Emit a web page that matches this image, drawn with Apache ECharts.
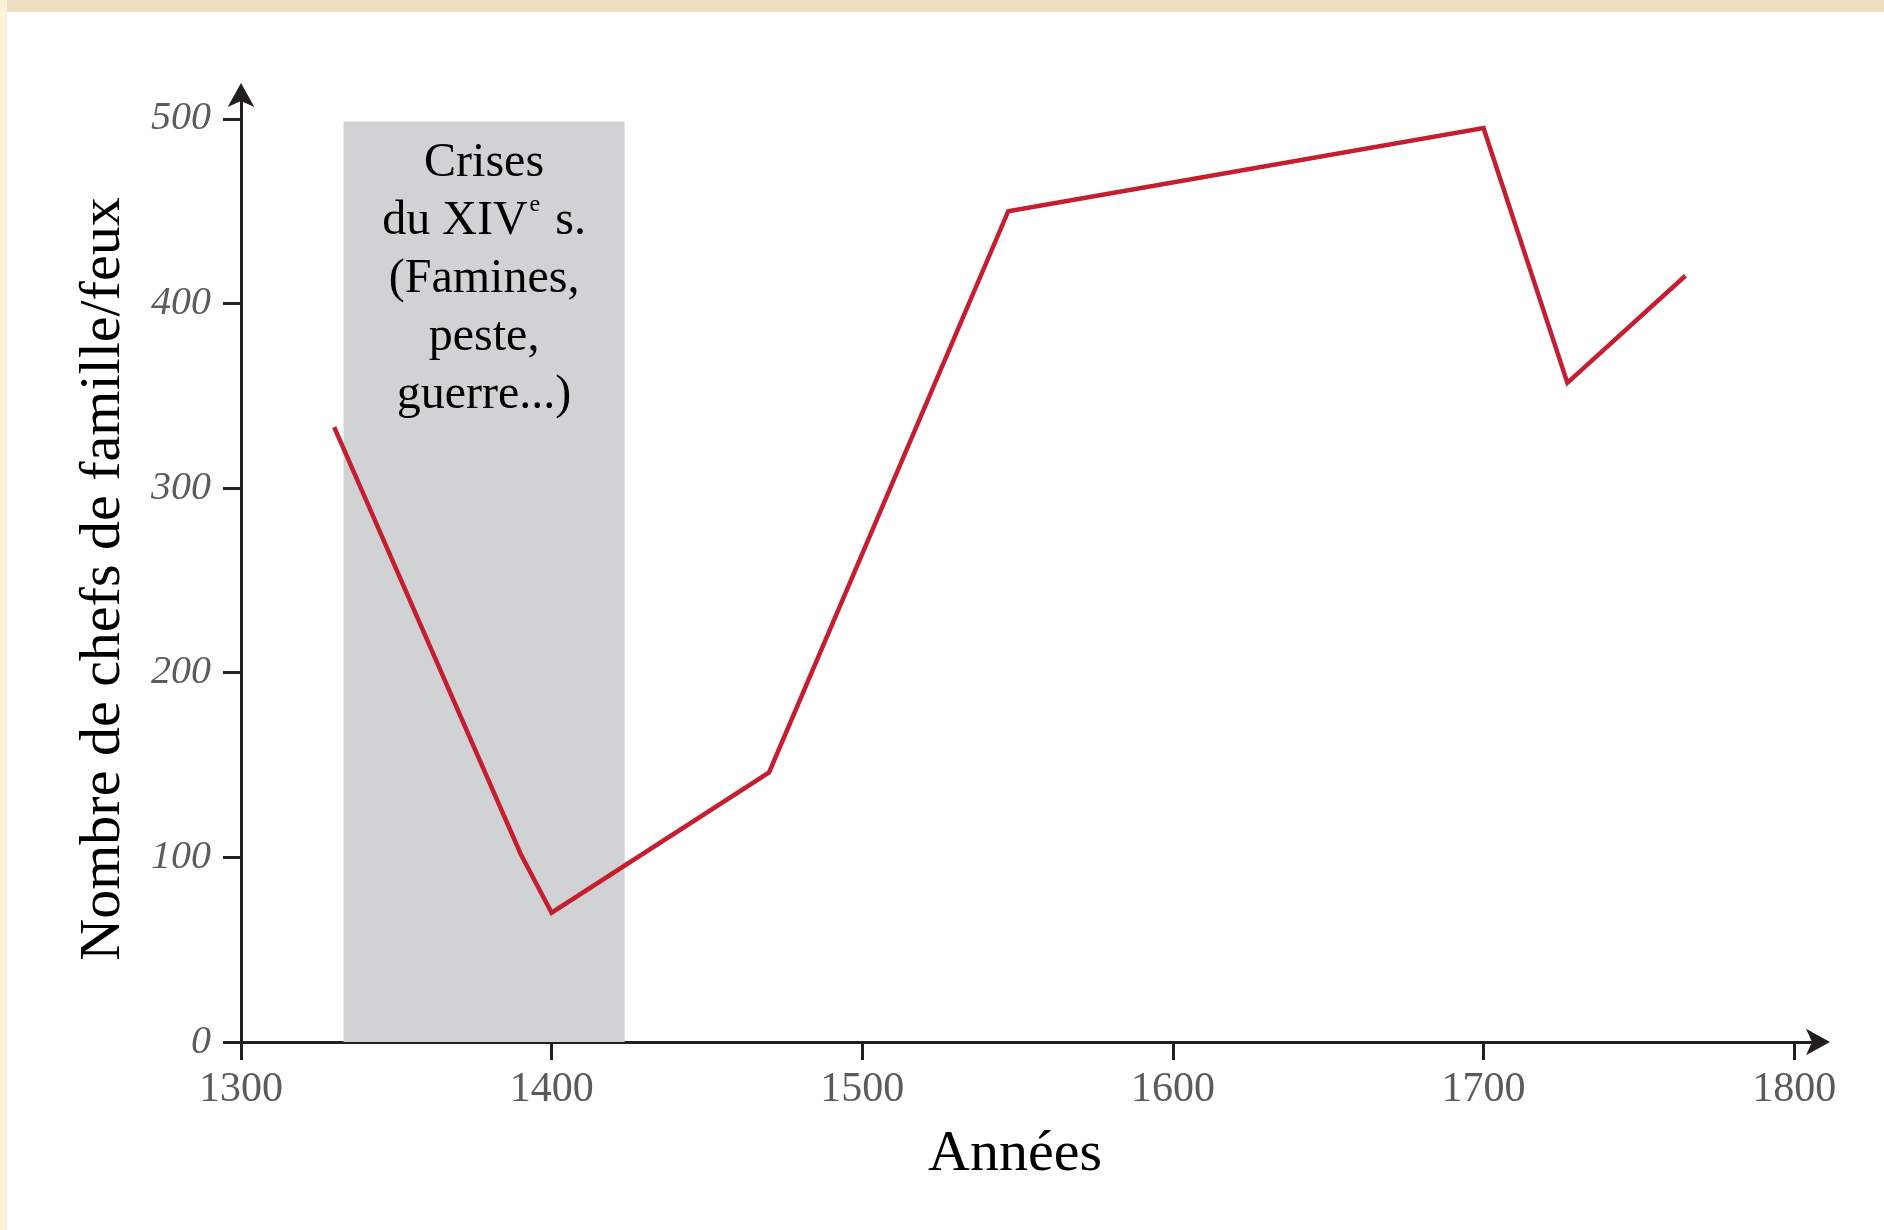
<!DOCTYPE html>
<html>
<head>
<meta charset="utf-8">
<script src="https://cdn.jsdelivr.net/npm/echarts@6/dist/echarts.min.js"></script>
<style>
html,body{margin:0;padding:0;background:#fff;}
#chart{width:1884px;height:1230px;}
</style>
</head>
<body>
<div id="chart"></div>
<script>
// Data
const years = [1330, 1390, 1400, 1470, 1547, 1700, 1727, 1765];
const feux  = [333, 102, 70, 146, 450, 495, 357, 415];
const xTicks = [1300, 1400, 1500, 1600, 1700, 1800];
const yTicks = [0, 100, 200, 300, 400, 500];
const crisisFrom = 1333;
const crisisTo = 1423.5;
const crisisTop = 498.6;
const crisisText = '{a|Crises}\n{a|du XIV}{sup|e}{a| s.}\n{a|(Famines,}\n{a|peste,}\n{a|guerre...)}';
const xTitle = 'Années';
const yTitle = 'Nombre de chefs de famille/feux';

const serif = '"Liberation Serif", "DejaVu Serif", serif';
const axisColor = '#231f20';

const chart = echarts.init(document.getElementById('chart'));
chart.setOption({
  backgroundColor: '#ffffff',
  animation: false,
  grid: { left: 241, top: 93, right: 65, bottom: 188 },
  graphic: [
    { type: 'rect', left: 0, top: 0, shape: { width: 1884, height: 12 }, style: { fill: '#ecdcc0' }, silent: true },
    { type: 'rect', left: 0, top: 0, shape: { width: 7, height: 1230 }, style: { fill: '#fbf2d8' }, silent: true }
  ],
  xAxis: {
    type: 'value',
    min: 1300, max: 1808, interval: 100,
    name: xTitle, nameLocation: 'middle', nameGap: 84,
    nameTextStyle: { fontFamily: serif, fontSize: 58, color: '#000', padding: [0, 30, 0, 0] },
    axisLine: { show: true, lineStyle: { color: axisColor, width: 3 }, symbol: ['none', 'arrow'], symbolSize: [20, 24], symbolOffset: [0, 11] },
    axisTick: { show: true, length: 18, lineStyle: { color: axisColor, width: 3 }, customValues: xTicks },
    axisLabel: { margin: 27, fontFamily: serif, fontSize: 42, color: '#5b5b5b', customValues: xTicks, formatter: v => String(v) },
    splitLine: { show: false }
  },
  yAxis: {
    type: 'value',
    min: 0, max: 514, interval: 100,
    name: yTitle, nameLocation: 'middle', nameGap: 108,
    nameTextStyle: { fontFamily: serif, fontSize: 58, color: '#000', padding: [0, 23, 0, 0] },
    axisLine: { show: true, lineStyle: { color: axisColor, width: 3 }, symbol: ['none', 'arrow'], symbolSize: [20, 24], symbolOffset: [0, 10] },
    axisTick: { show: true, length: 18, lineStyle: { color: axisColor, width: 3 }, customValues: yTicks },
    axisLabel: { margin: 30, fontFamily: serif, fontStyle: 'italic', fontSize: 40, color: '#5b5b5b', customValues: yTicks, formatter: v => String(v) },
    splitLine: { show: false }
  },
  series: [
    {
      type: 'line',
      z: 1,
      data: [],
      silent: true,
      markArea: {
        silent: true,
        itemStyle: { color: '#d1d2d4' },
        label: {
          show: true,
          position: 'insideTop',
          distance: 13,
          align: 'center',
          rich: {
            a: { fontFamily: serif, fontSize: 48, color: '#000', lineHeight: 58 },
            sup: { fontFamily: serif, fontSize: 24, color: '#000', lineHeight: 32, verticalAlign: 'top', padding: [0, 3, 0, 2] }
          },
          formatter: crisisText
        },
        data: [[{ xAxis: crisisFrom, yAxis: 0 }, { xAxis: crisisTo, yAxis: crisisTop }]]
      }
    },
    {
      type: 'line',
      z: 3,
      data: years.map((y, i) => [y, feux[i]]),
      symbol: 'none',
      lineStyle: { color: '#c41e30', width: 4.5, join: 'miter' }
    }
  ]
});
</script>
</body>
</html>
